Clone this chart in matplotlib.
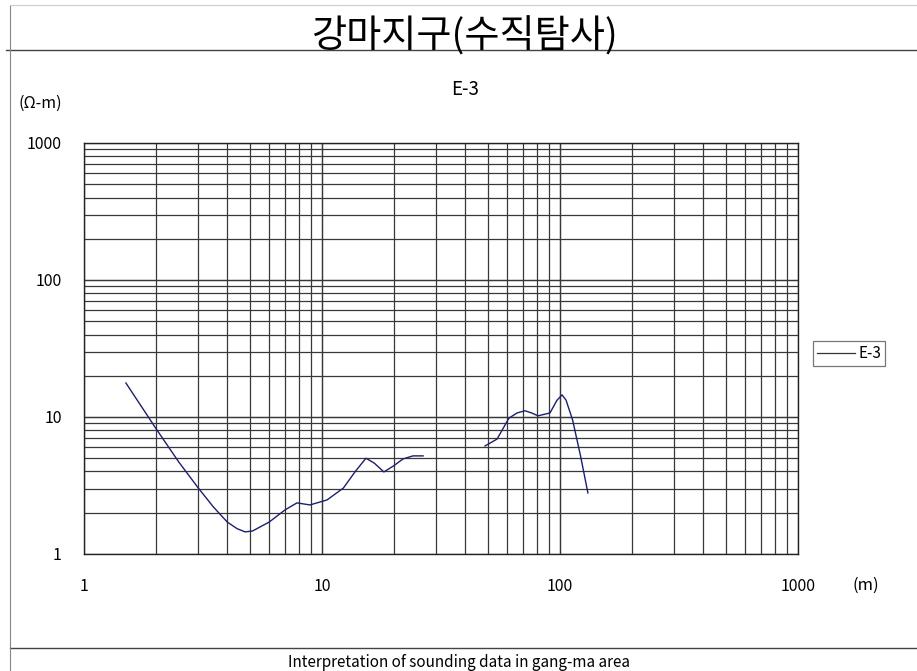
import matplotlib.pyplot as plt
from matplotlib.lines import Line2D

plt.rcParams['font.family'] = ['Noto Sans CJK KR', 'DejaVu Sans']

# spacing (m) and apparent resistivity (ohm-m), two measured segments
ab1 = [1.5, 1.75, 2.0, 2.5, 3.0, 3.5, 4.0, 4.4, 4.75, 5.1, 5.4, 6.0, 7.0, 7.85, 8.9, 10.5, 12.3, 13.8, 15.3, 16.6, 18.2, 20.0, 21.9, 24.1, 26.6]
rho1 = [17.7, 11.8, 8.3, 4.7, 3.08, 2.2, 1.71, 1.53, 1.45, 1.47, 1.55, 1.71, 2.1, 2.36, 2.28, 2.48, 3.03, 4.0, 5.0, 4.6, 3.97, 4.4, 4.94, 5.2, 5.2]
ab2 = [48.4, 54.4, 61.0, 66.0, 71.3, 76.0, 80.9, 90.8, 97.0, 102.0, 106.0, 113.0, 122.0, 131.0]
rho2 = [6.14, 6.9, 9.8, 10.7, 11.1, 10.7, 10.2, 10.7, 13.2, 14.5, 13.3, 9.5, 5.2, 2.79]

xticks = [1, 10, 100, 1000]
yticks = [1, 10, 100, 1000]

fig = plt.figure(figsize=(9.17, 6.71), dpi=100)
ax = fig.add_axes([0.0916, 0.1744, 0.7786, 0.6125])

line_col = '#1c1f6b'
ax.plot(ab1, rho1, color=line_col, lw=1.0)
ax.plot(ab2, rho2, color=line_col, lw=1.0)

ax.set_xscale('log')
ax.set_yscale('log')
ax.set_xlim(1, 1000)
ax.set_ylim(1, 1000)

# full log grid, drawn by hand so every 1..9 line shows
for d in [1, 10, 100]:
    for k in range(1, 11):
        v = d * k
        ax.axvline(v, color='#383838', lw=0.9, zorder=0)
        ax.axhline(v, color='#383838', lw=0.9, zorder=0)

ax.set_xticks(xticks)
ax.set_yticks(yticks)
ax.set_xticklabels([str(t) for t in xticks], fontsize=11.5)
ax.set_yticklabels([str(t) for t in yticks], fontsize=11.5)
ax.minorticks_off()
ax.tick_params(axis='x', length=0, pad=17)
ax.tick_params(axis='y', length=0, pad=16)
for s in ax.spines.values():
    s.set_color('#222222')
    s.set_linewidth(1.0)

# labels around the chart
fig.text(0.507, 0.945, '강마지구(수직탐사)', ha='center', va='center', fontsize=27.5)
fig.text(0.507, 0.866, 'E-3', ha='center', va='center', fontsize=13.5)
fig.text(0.044, 0.846, '(Ω-m)', ha='center', va='center', fontsize=11.5)
fig.text(0.944, 0.128, '(m)', ha='center', va='center', fontsize=12)
fig.text(0.5, 0.0134, 'Interpretation of sounding data in gang-ma area', ha='center', va='center', fontsize=11)

# frame lines of the sheet
fig.add_artist(Line2D([0.006, 1.0], [0.925, 0.925], color='#444444', lw=1.0))
fig.add_artist(Line2D([0.011, 1.0], [0.034, 0.034], color='#444444', lw=1.0))
fig.add_artist(Line2D([0.011, 0.011], [0.0, 0.993], color='#888888', lw=0.8))
fig.add_artist(Line2D([0.011, 1.0], [0.993, 0.993], color='#cccccc', lw=0.8))

# legend
leg = ax.legend([Line2D([], [], color='#333333', lw=0.9)], ['E-3'],
                loc='center left', bbox_to_anchor=(1.021, 0.488), frameon=True,
                fancybox=False, handlelength=2.5, borderpad=0.25, fontsize=11,
                handletextpad=0.2, borderaxespad=0)
leg.get_frame().set_edgecolor('#555555')
leg.get_frame().set_linewidth(0.9)

fig.savefig('out.png', dpi=100)
